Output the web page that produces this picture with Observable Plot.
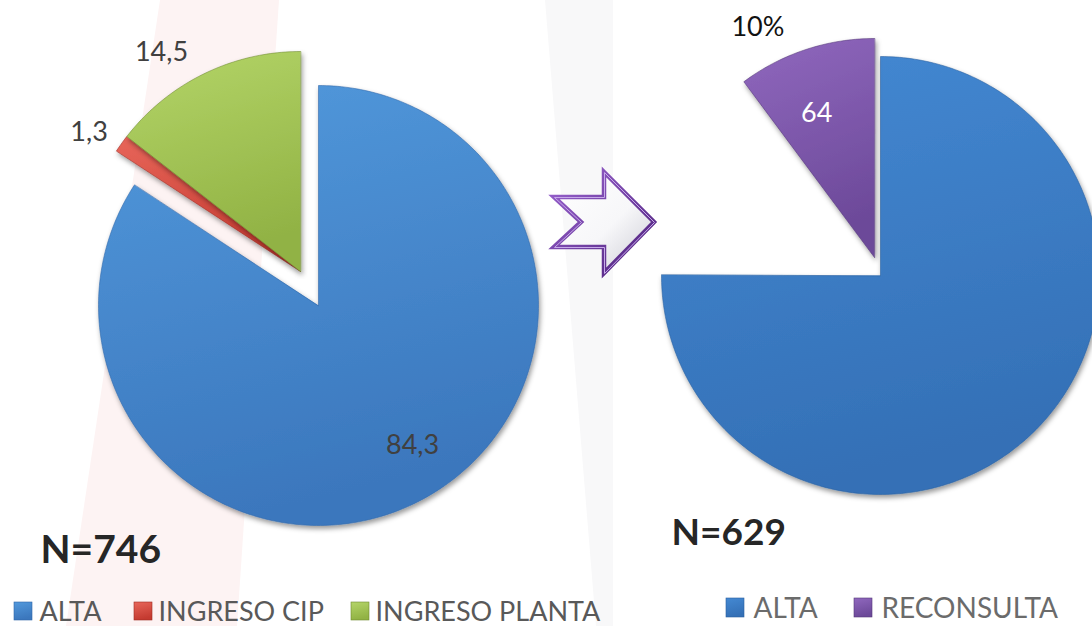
<!DOCTYPE html>
<html><head><meta charset="utf-8">
<script src="https://cdn.jsdelivr.net/npm/d3@7"></script>
<script src="https://cdn.jsdelivr.net/npm/@observablehq/plot@0.6"></script>
<style>
html,body{margin:0;padding:0;background:#fff;}
#wrap{position:relative;width:1092px;height:626px;overflow:hidden;font-family:Lato,"Open Sans",sans-serif;}
#bg,#chart{position:absolute;left:0;top:0;}
</style></head><body>
<div id="wrap">
<svg id="bg" width="1092" height="626">
  <defs>
    <linearGradient id="arrowFill" x1="0" y1="0" x2="1" y2="1">
      <stop offset="0" stop-color="#ffffff"/><stop offset="0.55" stop-color="#f7f7f9"/><stop offset="1" stop-color="#c9c9d2"/>
    </linearGradient>
    <linearGradient id="arrowStroke" x1="0" y1="0" x2="1" y2="1">
      <stop offset="0" stop-color="#9a63d0"/><stop offset="1" stop-color="#4b1f78"/>
    </linearGradient>
  </defs>
  <polygon points="160,0 279,0 237,626 66,626" fill="#fdf3f3"/>
  <polygon points="545,0 613,0 613,626 596,626" fill="#f8f8f9"/>
  <polygon points="604,172 654,222 604,273 604,247 554,247 581,222 554,197 604,197" fill="url(#arrowFill)" stroke="url(#arrowStroke)" stroke-width="4.5" stroke-linejoin="miter"/>
  <polygon points="604,172 654,222 604,273 604,247 554,247 581,222 554,197 604,197" fill="none" stroke="#c7a9ea" stroke-width="1" transform="translate(0.5,0.5)"/>
</svg>
<div id="chart"></div>
</div>
<script>
// ---------- data ----------
const leftCategories = ["ALTA", "INGRESO CIP", "INGRESO PLANTA"];
const leftValues = [84.3, 1.3, 14.5];
const leftLabels = ["84,3", "1,3", "14,5"];
const leftTotal = "N=746";

const rightCategories = ["ALTA", "", "RECONSULTA"];   // middle wedge is left blank in the source
const rightValues = [472, 93, 64];
const rightLabels = ["", "", "64"];
const rightTotal = "N=629";

const legendLeft = ["ALTA", "INGRESO CIP", "INGRESO PLANTA"];
const legendRight = ["ALTA", "RECONSULTA"];

// ---------- styles / layout ----------
const W = 1092, H = 626;
const palette = {
  "L:ALTA": ["#5299dc", "#3b77bd", "#2f67a8"],
  "L:INGRESO CIP": ["#e8665a", "#c43a30", "#9e2c24"],
  "L:INGRESO PLANTA": ["#b4d568", "#91b244", "#6f8a31"],
  "R:ALTA": ["#4489d3", "#3470b6", "#2a5f9e"],
  "R:RECONSULTA": ["#9068be", "#6c4999", "#553878"],
  "R:": null
};
const pies = [
  {key: "L", cats: leftCategories, values: leftValues, labels: leftLabels,
   cx: 318, cy: 305, r: 220,
   explode: {"INGRESO CIP": [-18, -34], "INGRESO PLANTA": [-18, -34]},
   labelPos: {"ALTA": [0.766, -5.5, "#404040"], "INGRESO CIP": [1.15, -2.2, "#404040"], "INGRESO PLANTA": [1.18, -6.3, "#404040"]}},
  {key: "R", cats: rightCategories, values: rightValues, labels: rightLabels,
   cx: 880, cy: 275, r: 219,
   explode: {"RECONSULTA": [-6, -18]},
   labelPos: {"RECONSULTA": [0.71, -3.5, "#ffffff"]},
   pctPos: {"RECONSULTA": [1.18, -8.5, "#111111"]}}
];

// gradient defs (document-wide)
const defsSvg = d3.select("body").append("svg").attr("width", 0).attr("height", 0).style("position", "absolute");
const defs = defsSvg.append("defs");
for (const [id, c] of Object.entries(palette)) {
  if (!c) continue;
  const g = defs.append("linearGradient").attr("id", "g" + id.replace(/[^A-Za-z]/g, ""))
    .attr("x1", 0).attr("y1", 0).attr("x2", 0.25).attr("y2", 1);
  g.append("stop").attr("offset", 0).attr("stop-color", c[0]);
  g.append("stop").attr("offset", 1).attr("stop-color", c[1]);
}
const f = defs.append("filter").attr("id", "shadow").attr("x", "-10%").attr("y", "-10%").attr("width", "130%").attr("height", "130%");
f.append("feDropShadow").attr("dx", 1.5).attr("dy", 3).attr("stdDeviation", 2.5).attr("flood-color", "#000").attr("flood-opacity", 0.4);
const gid = k => "url(#g" + k.replace(/[^A-Za-z]/g, "") + ")";

// ---------- marks ----------
const marks = [];
const textMarks = [];
const rad = Math.PI / 180;
for (const p of pies) {
  const arcs = d3.pie().sort(null).value(d => d.v)(p.cats.map((c, i) => ({c, v: p.values[i], label: p.labels[i]})));
  arcs.forEach((a, i) => {
    const cat = a.data.c;
    const pal = palette[p.key + ":" + cat];
    const [ox, oy] = p.explode[cat] || [0, 0];
    const vx = p.cx + ox, vy = p.cy + oy;
    if (pal) {
      const n = Math.max(3, Math.ceil((a.endAngle - a.startAngle) / rad));
      const pts = [{x: vx, y: vy}];
      for (let j = 0; j <= n; j++) {
        const t = a.startAngle + (a.endAngle - a.startAngle) * j / n;
        pts.push({x: vx + p.r * Math.sin(t), y: vy - p.r * Math.cos(t)});
      }
      marks.push(Plot.line(pts, {x: "x", y: "y", curve: "linear-closed", fill: gid(p.key + ":" + cat),
        stroke: pal[2], strokeWidth: 0.8, strokeOpacity: 0.7}));
    }
    const mid = (a.startAngle + a.endAngle) / 2;
    const place = (spec, txt) => {
      const [k, dt, color] = spec;
      const t = mid + dt * rad;
      textMarks.push(Plot.text([{x: vx + k * p.r * Math.sin(t), y: vy - k * p.r * Math.cos(t), t: txt}],
        {x: "x", y: "y", text: "t", fill: color, fontSize: 27, fontFamily: "Lato", lineAnchor: "middle", textAnchor: "middle"}));
    };
    if (p.labelPos[cat] && a.data.label) place(p.labelPos[cat], a.data.label);
    if (p.pctPos && p.pctPos[cat]) {
      const total = d3.sum(p.values);
      place(p.pctPos[cat], Math.round(a.data.v / total * 100) + "%");
    }
  });
}

// totals
textMarks.push(Plot.text([leftTotal], {x: () => 40, y: () => 562, text: d => d, fontSize: 39, fontWeight: "bold", fontFamily: "Lato", fill: "#262626", textAnchor: "start", lineAnchor: "bottom"}));
textMarks.push(Plot.text([rightTotal], {x: () => 671, y: () => 544, text: d => d, fontSize: 37, fontWeight: "bold", fontFamily: "Lato", fill: "#262626", textAnchor: "start", lineAnchor: "bottom"}));

// legends
const legendSpecs = [
  {key: "L", items: legendLeft, swX: [14, 134, 351], txX: [39, 158, 375], y0: 602, y1: 620, base: 620, size: 27, color: "#595959"},
  {key: "R", items: legendRight, swX: [726, 854], txX: [753, 881], y0: 598, y1: 617, base: 617, size: 28, color: "#6b6b6b"}
];
for (const L of legendSpecs) {
  L.items.forEach((it, i) => {
    const pal = palette[L.key + ":" + it];
    marks.push(Plot.rect([it], {x1: () => L.swX[i], x2: () => L.swX[i] + 18, y1: () => L.y0, y2: () => L.y1,
      fill: gid(L.key + ":" + it), stroke: pal[2], strokeWidth: 0.6}));
    textMarks.push(Plot.text([it], {x: () => L.txX[i], y: () => L.base, text: d => d, fontSize: L.size, fontFamily: "Lato",
      fill: L.color, textAnchor: "start", lineAnchor: "bottom"}));
  });
}

const chart = Plot.plot({
  width: W, height: H, margin: 0,
  x: {domain: [0, W], range: [0, W], axis: null},
  y: {domain: [0, H], range: [0, H], axis: null},
  style: {background: "transparent", overflow: "visible"},
  marks: [...marks, ...textMarks]
});
d3.select(chart).selectAll('g[aria-label="line"]').attr("filter", "url(#shadow)");
document.getElementById("chart").appendChild(chart);
</script>
</body></html>
